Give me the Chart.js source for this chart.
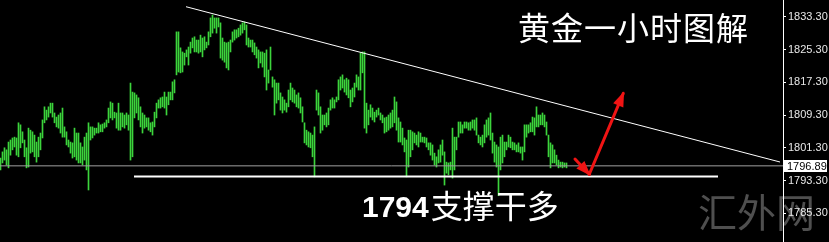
<!DOCTYPE html>
<html>
<head>
<meta charset="utf-8">
<script src="https://cdn.jsdelivr.net/npm/chart.js@4"></script>
<style>
  html, body { margin: 0; padding: 0; background: #000; overflow: hidden; }
  #wrap { width: 829px; height: 242px; position: relative; }
</style>
</head>
<body>
<div id="wrap"><canvas id="c"></canvas></div>
<script>
// ---- Data (hourly gold bars) ----
const highs = [
  1798.8,1800.3,1801.3,1800.8,1802.7,1803.2,1803.7,1803.9,1803.7,1807.4,1806.9,1805.2,1803.2,1801.3,1806.1,1805.6,1805.2,1804.4,1802.7,1803.9,
  1804.9,1808.1,1811.3,1810.5,1811.3,1812.2,1812.2,1809.8,1808.8,1809.3,1809.8,1811.0,1806.4,1805.2,1803.2,1802.7,1802.5,1806.1,1804.9,1804.9,
  1802.5,1801.5,1803.9,1804.9,1807.4,1806.4,1806.4,1806.1,1806.1,1807.4,1806.9,1807.1,1807.4,1808.1,1811.0,1812.5,1812.2,1810.0,1809.8,1812.2,
  1809.8,1809.8,1809.3,1809.8,1809.3,1817.1,1814.9,1814.7,1814.2,1813.5,1811.3,1809.8,1809.3,1808.6,1808.6,1807.4,1807.6,1810.0,1812.2,1813.0,
  1813.5,1813.7,1814.9,1813.7,1814.9,1814.9,1817.4,1817.9,1829.6,1829.6,1825.7,1824.7,1824.4,1825.2,1825.9,1827.1,1828.1,1828.4,1827.6,1827.6,
  1828.8,1828.1,1828.4,1827.1,1829.6,1833.0,1833.7,1833.0,1833.0,1833.0,1831.8,1828.1,1827.1,1826.9,1827.1,1827.6,1829.6,1830.1,1830.1,1830.5,
  1831.3,1831.8,1832.0,1831.3,1828.1,1827.6,1827.6,1826.9,1825.9,1825.2,1824.7,1824.7,1824.4,1825.2,1820.3,1825.9,1818.6,1817.9,1817.1,1817.1,
  1814.7,1813.7,1813.0,1812.2,1815.4,1817.1,1815.9,1815.4,1814.2,1814.7,1813.5,1811.3,1807.4,1805.6,1805.2,1804.9,1804.4,1806.4,1815.4,1814.7,
  1811.3,1809.3,1809.3,1809.8,1811.0,1813.0,1813.5,1813.0,1813.7,1817.9,1818.6,1819.1,1817.9,1818.3,1817.9,1815.4,1815.9,1817.1,1819.1,1818.6,
  1824.4,1824.7,1824.7,1812.2,1810.5,1811.8,1811.0,1810.0,1810.5,1811.0,1809.8,1809.3,1808.6,1808.8,1809.3,1809.8,1810.5,1813.7,1812.5,1808.6,
  1807.6,1806.1,1803.7,1803.2,1805.6,1805.6,1805.2,1804.9,1804.4,1805.2,1804.9,1803.9,1803.9,1803.7,1802.5,1802.5,1802.0,1800.0,1799.1,1800.8,
  1802.0,1803.2,1800.3,1797.8,1797.6,1797.8,1806.1,1803.9,1803.9,1807.6,1807.6,1806.9,1807.6,1807.6,1807.4,1807.6,1808.1,1808.1,1808.6,1804.4,
  1803.9,1804.4,1806.9,1808.1,1808.6,1809.8,1804.9,1802.7,1802.0,1801.5,1803.9,1804.4,1802.7,1802.7,1804.4,1803.9,1802.7,1802.5,1802.0,1802.5,
  1801.5,1801.5,1806.9,1806.9,1806.9,1807.4,1808.8,1808.6,1811.3,1809.3,1809.3,1809.8,1809.3,1807.6,1804.4,1802.5,1802.0,1800.8,1799.5,1798.3,
  1797.8,1797.8,1797.6,1797.6
];
const lows = [
  1795.9,1797.6,1798.3,1797.1,1796.4,1799.5,1800.8,1801.5,1799.5,1799.1,1801.3,1802.5,1799.1,1796.4,1796.6,1800.0,1800.3,1799.1,1797.8,1799.1,
  1800.8,1803.7,1807.4,1808.1,1808.8,1809.8,1808.8,1807.4,1806.4,1806.1,1804.9,1803.9,1803.9,1802.0,1801.5,1800.0,1798.8,1799.1,1798.3,1797.6,
  1797.6,1797.1,1798.3,1795.9,1791.0,1803.2,1803.7,1804.4,1804.9,1804.9,1805.2,1805.2,1806.1,1806.4,1807.4,1808.6,1808.1,1808.6,1806.1,1805.6,
  1805.6,1806.4,1806.1,1806.9,1805.6,1798.3,1799.1,1808.6,1809.8,1808.1,1806.4,1804.9,1806.1,1806.4,1805.6,1805.2,1804.4,1806.4,1808.6,1811.0,
  1811.0,1811.3,1811.0,1809.3,1811.8,1813.0,1813.0,1814.7,1819.1,1819.8,1819.6,1819.8,1821.5,1823.5,1821.5,1824.4,1825.7,1824.7,1824.7,1824.4,
  1824.7,1823.5,1825.2,1825.7,1826.4,1828.4,1829.3,1830.5,1829.3,1830.8,1823.2,1822.7,1822.2,1820.8,1820.3,1824.7,1827.1,1827.6,1828.1,1828.4,
  1828.8,1829.3,1830.1,1826.4,1825.9,1825.9,1824.7,1824.0,1823.2,1820.8,1822.0,1821.0,1818.6,1815.4,1817.1,1820.3,1816.1,1809.3,1812.2,1813.0,
  1810.5,1809.8,1810.5,1810.0,1811.3,1813.0,1812.5,1812.2,1811.3,1811.0,1809.8,1807.6,1802.5,1802.0,1801.5,1801.3,1799.1,1794.2,1810.5,1809.3,
  1804.9,1805.6,1806.9,1806.4,1806.9,1810.5,1811.0,1811.0,1812.5,1813.0,1815.4,1815.9,1814.9,1814.2,1813.5,1811.3,1812.5,1813.7,1816.1,1815.4,
  1815.4,1819.6,1806.1,1804.9,1806.9,1808.8,1808.1,1807.6,1808.8,1809.3,1808.1,1807.4,1804.9,1805.2,1805.6,1806.1,1806.4,1807.4,1805.6,1802.7,
  1802.7,1802.0,1800.3,1794.2,1796.6,1799.1,1800.8,1802.5,1802.0,1801.5,1802.7,1802.7,1802.5,1801.5,1800.8,1799.5,1798.3,1797.1,1796.6,1797.6,
  1797.8,1799.5,1792.2,1795.1,1794.7,1795.9,1793.9,1795.9,1800.8,1803.9,1804.9,1804.9,1806.1,1806.1,1805.6,1805.6,1806.1,1805.6,1804.4,1802.5,
  1802.0,1801.5,1802.5,1803.9,1804.4,1803.2,1800.0,1797.8,1796.6,1789.6,1795.9,1797.6,1799.1,1800.8,1801.5,1801.3,1800.8,1800.8,1800.3,1800.3,
  1800.0,1798.3,1800.3,1803.9,1804.9,1805.2,1805.2,1804.4,1806.4,1806.4,1806.9,1806.9,1806.4,1804.4,1799.1,1796.4,1797.6,1797.6,1797.1,1796.4,
  1796.6,1796.4,1796.6,1796.4
];
const priceTicks = [1833.30, 1825.30, 1817.30, 1809.30, 1801.30, 1793.30, 1785.30];
const currentPrice = 1796.89;
// drawn annotations, in (bar index, price) units
const resistanceLine = [{x: 92.75, y: 1835.74}, {x: 389.75, y: 1797.83}];
const supportLine = [{x: 66.75, y: 1794.3}, {x: 358.75, y: 1794.3}];
const arrowDown = [{x: 287.25, y: 1798.56}, {x: 294.4, y: 1794.83}];
const arrowUp = [{x: 294.4, y: 1794.83}, {x: 311.4, y: 1814.6}];
const titleText = '黄金一小时图解';
const noteDigits = '1794';
const noteText = '支撑干多';
const watermarkText = '汇外网';

// ---- Chart ----
const X_MIN = -0.25, X_MAX = 391.25;
const barData = highs.map((h, i) => ({x: i, y: [lows[i], h]}));

const decor = {
  id: 'decor',
  beforeDraw(chart) {
    const ctx = chart.ctx;
    ctx.save();
    ctx.fillStyle = '#000';
    ctx.fillRect(0, 0, chart.width, chart.height);
    ctx.fillStyle = '#4f4f4f';
    ctx.font = '39px "Noto Sans CJK SC"';
    ctx.textBaseline = 'alphabetic';
    ctx.fillText(watermarkText, 698, 227);
    ctx.restore();
  },
  afterDatasetsDraw(chart) {
    const ctx = chart.ctx;
    ctx.save();
    // arrowheads
    chart.data.datasets.forEach((ds, i) => {
      if (!ds.arrowHead) return;
      const pts = chart.getDatasetMeta(i).data;
      const a = pts[pts.length - 2], b = pts[pts.length - 1];
      const ang = Math.atan2(b.y - a.y, b.x - a.x);
      const L = 13, W = 5.5;
      ctx.fillStyle = ds.borderColor;
      ctx.beginPath();
      ctx.moveTo(b.x + Math.cos(ang) * 2, b.y + Math.sin(ang) * 2);
      ctx.lineTo(b.x - Math.cos(ang) * L - Math.sin(ang) * W, b.y - Math.sin(ang) * L + Math.cos(ang) * W);
      ctx.lineTo(b.x - Math.cos(ang) * L + Math.sin(ang) * W, b.y - Math.sin(ang) * L - Math.cos(ang) * W);
      ctx.closePath();
      ctx.fill();
    });
    // texts
    ctx.fillStyle = '#ffffff';
    ctx.textBaseline = 'alphabetic';
    ctx.font = '32px "Noto Sans CJK SC"';
    ctx.letterSpacing = '1px';
    ctx.fillText(titleText, 518, 40);
    ctx.letterSpacing = '0px';
    ctx.font = 'bold 30px "Liberation Sans"';
    ctx.fillText(noteDigits, 362, 217);
    const w = ctx.measureText(noteDigits).width;
    ctx.font = '32px "Noto Sans CJK SC"';
    ctx.fillText(noteText, 362 + w + 2, 218);
    // current price label
    const y = chart.scales.y.getPixelForValue(currentPrice);
    const x0 = chart.chartArea.right + 1;
    ctx.fillStyle = '#ffffff';
    ctx.fillRect(x0, Math.round(y) - 6, 43, 12);
    ctx.fillStyle = '#000000';
    ctx.font = '11px "Liberation Sans"';
    ctx.textBaseline = 'middle';
    ctx.fillText(currentPrice.toFixed(2), x0 + 3, Math.round(y) + 0.5);
    ctx.restore();
  }
};

const lineDs = (data, color, width, extra) => Object.assign({
  type: 'line', data, borderColor: color, borderWidth: width,
  pointRadius: 0, fill: false, tension: 0
}, extra || {});

new Chart(document.getElementById('c'), {
  type: 'bar',
  data: {
    datasets: [
      lineDs(arrowDown, '#f01414', 3, {arrowHead: true, borderCapStyle: 'round'}),
      lineDs(arrowUp, '#f01414', 3, {arrowHead: true, borderCapStyle: 'round'}),
      lineDs(resistanceLine, '#ffffff', 1),
      lineDs(supportLine, '#ffffff', 2),
      lineDs([{x: X_MIN, y: currentPrice}, {x: X_MAX, y: currentPrice}], '#a0a0a0', 1),
      {
        type: 'bar', data: barData, backgroundColor: '#3cd43c',
        borderWidth: 0, barThickness: 1, grouped: false
      }
    ]
  },
  options: {
    responsive: true, maintainAspectRatio: false, animation: false,
    layout: {padding: 0},
    plugins: {legend: {display: false}, tooltip: {enabled: false}},
    scales: {
      x: {type: 'linear', display: false, min: X_MIN, max: X_MAX, offset: false, grid: {display: false}},
      y: {
        position: 'right', min: 1778.30, max: 1837.38,
        grid: {drawOnChartArea: false, color: '#ffffff', tickLength: 3},
        border: {color: '#ffffff', width: 1},
        ticks: {color: '#e8e8e8', padding: 2, font: {family: 'Liberation Sans', size: 11},
                callback: v => Number(v).toFixed(2)},
        afterBuildTicks: s => { s.ticks = priceTicks.map(v => ({value: v})); },
        afterFit: s => { s.width = 46; s.paddingTop = 0; s.paddingBottom = 0; }
      }
    }
  },
  plugins: [decor]
});
</script>
</body>
</html>
